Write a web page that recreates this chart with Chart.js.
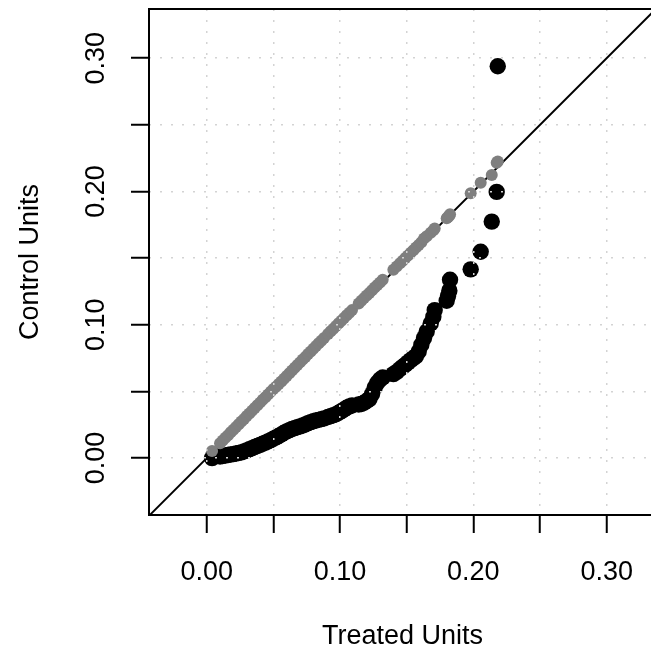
<!DOCTYPE html>
<html>
<head>
<meta charset="utf-8">
<script src="https://cdn.jsdelivr.net/npm/chart.js@4"></script>
<style>
html,body{margin:0;padding:0;background:#fff;overflow:hidden;width:651px;height:657px}
#wrap{position:absolute;left:0;top:0;width:670px;height:657px}
canvas{display:block}
</style>
</head>
<body>
<div id="wrap"><canvas id="c" width="670" height="657"></canvas></div>
<script>
// Treated-unit quantiles (x), shared by both series
const treated = [
  0.004, 0.010, 0.012, 0.014, 0.016, 0.018, 0.020, 0.022, 0.024, 0.026,
  0.028, 0.030, 0.032, 0.034, 0.036, 0.038, 0.040, 0.042, 0.044, 0.046,
  0.048, 0.050, 0.052, 0.054, 0.056, 0.058, 0.060, 0.062, 0.064, 0.066,
  0.068, 0.070, 0.072, 0.074, 0.076, 0.078, 0.080, 0.082, 0.084, 0.086,
  0.088, 0.091, 0.093, 0.095, 0.097, 0.099, 0.101, 0.103, 0.105, 0.107,
  0.109, 0.114, 0.116, 0.118, 0.120, 0.122, 0.124, 0.126, 0.128, 0.130,
  0.132, 0.140, 0.1425, 0.145, 0.147, 0.149, 0.151, 0.153, 0.155, 0.157,
  0.159, 0.161, 0.163, 0.165, 0.168, 0.170, 0.171, 0.180, 0.181, 0.182,
  0.1825, 0.198, 0.2055, 0.2138, 0.2175, 0.2183
];
// Control-unit quantiles, all units (black)
const controlAll = [
  0.000, 0.0012, 0.0016, 0.0019, 0.0023, 0.0027, 0.0030, 0.0034, 0.0038, 0.0043,
  0.0050, 0.0058, 0.0066, 0.0074, 0.0083, 0.0091, 0.0099, 0.0107, 0.0116, 0.0125,
  0.0135, 0.0145, 0.0155, 0.0166, 0.0178, 0.0190, 0.0200, 0.0210, 0.0218, 0.0225,
  0.0232, 0.0238, 0.0244, 0.0252, 0.0262, 0.0270, 0.0276, 0.0282, 0.0287, 0.0292,
  0.0298, 0.0308, 0.0315, 0.0322, 0.0329, 0.0340, 0.0352, 0.0365, 0.0378, 0.0388,
  0.0395, 0.0402, 0.0406, 0.0415, 0.0428, 0.0442, 0.0480, 0.0530, 0.0565, 0.0590,
  0.0605, 0.0630, 0.0647, 0.0668, 0.0685, 0.0700, 0.0718, 0.0735, 0.0750, 0.0765,
  0.0800, 0.0850, 0.0900, 0.0950, 0.1010, 0.1060, 0.1110, 0.1180, 0.1215, 0.1256,
  0.1338, 0.1416, 0.1548, 0.1774, 0.1997, 0.2939
];
// Control-unit quantiles, matched units (gray)
const controlMatched = [
  0.0054, 0.0112, 0.0132, 0.0152, 0.0172, 0.0193, 0.0213, 0.0233, 0.0254, 0.0274,
  0.0294, 0.0315, 0.0335, 0.0355, 0.0376, 0.0396, 0.0416, 0.0437, 0.0457, 0.0477,
  0.0497, 0.0518, 0.0536, 0.0555, 0.0575, 0.0596, 0.0616, 0.0637, 0.0657, 0.0677,
  0.0698, 0.0718, 0.0739, 0.0759, 0.0780, 0.0800, 0.0821, 0.0841, 0.0861, 0.0881,
  0.0901, 0.0931, 0.0951, 0.0971, 0.0991, 0.1011, 0.1031, 0.1051, 0.1071, 0.1090,
  0.1110, 0.1160, 0.1180, 0.1200, 0.1220, 0.1239, 0.1259, 0.1279, 0.1298, 0.1318,
  0.1338, 0.1413, 0.1437, 0.1462, 0.1481, 0.1501, 0.1520, 0.1540, 0.1560, 0.1579,
  0.1599, 0.1619, 0.1648, 0.1665, 0.1690, 0.1710, 0.1723, 0.1800, 0.1808, 0.1818,
  0.1830, 0.1986, 0.2065, 0.2123, 0.2215, 0.2225
];
const tickValues = [0, 0.05, 0.10, 0.15, 0.20, 0.25, 0.30];
const tickLabels = ['0.00', '', '0.10', '', '0.20', '', '0.30'];
const refLine = [-0.1, 0.5]; // y = x reference line end points
const xTitle = 'Treated Units';
const yTitle = 'Control Units';

const FONT = '"Liberation Sans", Arial, Helvetica, sans-serif';
const toPts = (xs, ys) => xs.map((x, i) => ({x: x, y: ys[i]}));

const boxPlugin = {
  id: 'box',
  afterDraw(chart) {
    const {ctx, chartArea: a} = chart;
    ctx.save();
    ctx.strokeStyle = '#000';
    ctx.lineWidth = 2;
    ctx.strokeRect(a.left, a.top, a.right - a.left, a.bottom - a.top);
    ctx.restore();
  }
};

function scaleOpts(isX) {
  return {
    type: 'linear',
    min: isX ? -0.0433 : -0.0427,
    max: isX ? 0.3370 : 0.3369,
    afterBuildTicks: s => { s.ticks = tickValues.map(v => ({value: v})); },
    afterFit: s => {
      if (isX) { s.height = 142; s.paddingLeft = 0; s.paddingRight = 0; }
      else { s.width = 149; s.paddingTop = 0; s.paddingBottom = 0; }
    },
    ticks: {
      autoSkip: false,
      color: '#000',
      font: {family: FONT, size: 27},
      padding: isX ? 23 : 8,
      minRotation: isX ? 0 : 90,
      maxRotation: isX ? 0 : 90,
      crossAlign: isX ? 'near' : 'center',
      callback: (v, i) => tickLabels[i]
    },
    grid: {
      color: '#d3d3d3',
      lineWidth: 1.5,
      tickLength: 18,
      tickWidth: 2,
      tickColor: '#000',
      drawTicks: true,
      z: 1
    },
    border: {display: false, dash: [2, 9]},
    title: {
      display: true,
      text: isX ? xTitle : yTitle,
      color: '#000',
      font: {family: FONT, size: 27, lineHeight: 1.2},
      padding: isX ? {top: 0, bottom: 4} : {top: 14, bottom: 0}
    }
  };
}

new Chart(document.getElementById('c'), {
  type: 'scatter',
  data: {
    datasets: [
      {
        type: 'line',
        data: toPts(refLine, refLine),
        borderColor: '#000',
        borderWidth: 2,
        pointRadius: 0,
        fill: false,
        clip: 0,
        order: 3
      },
      {
        data: toPts(treated, controlAll),
        backgroundColor: '#000',
        borderWidth: 0,
        pointRadius: 8.2,
        order: 2
      },
      {
        data: toPts(treated, controlMatched),
        backgroundColor: '#7f7f7f',
        borderWidth: 0,
        pointRadius: 6.0,
        order: 1
      }
    ]
  },
  options: {
    responsive: false,
    animation: false,
    events: [],
    layout: {padding: {top: 9, left: 0, right: 14, bottom: 0}},
    plugins: {legend: {display: false}, tooltip: {enabled: false}},
    scales: {x: scaleOpts(true), y: scaleOpts(false)}
  },
  plugins: [boxPlugin]
});
</script>
</body>
</html>
